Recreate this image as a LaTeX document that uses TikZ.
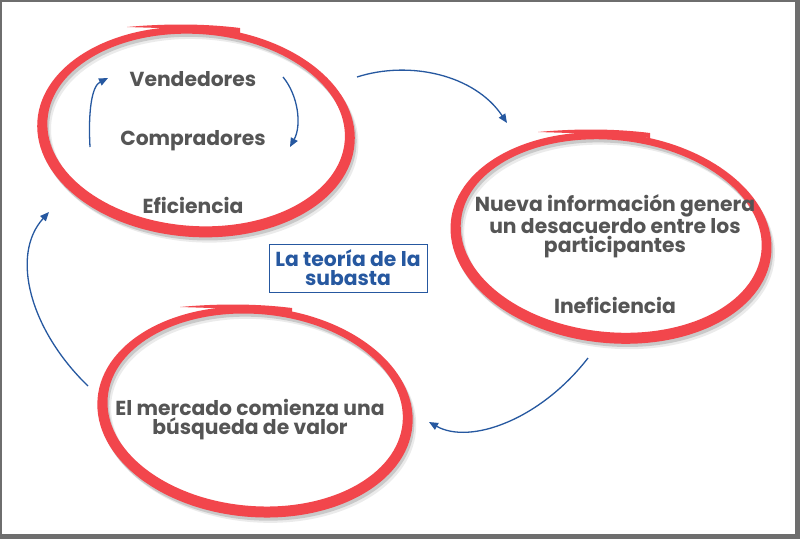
\documentclass[tikz,border=0pt]{standalone}
\usepackage{fontspec}
\setmainfont{Poppins}
\usetikzlibrary{arrows.meta}
\definecolor{ringred}{RGB}{242,70,76}
\definecolor{txtgray}{RGB}{85,85,85}
\definecolor{arrblue}{RGB}{38,88,160}
\definecolor{framegray}{RGB}{110,110,110}
\newcommand\brushring[5]{%
  \begin{scope}[shift={(#1,#2)},rotate=#5]
    \fill[black,opacity=0.08,even odd rule,shift={(4,5)}] (0,0) ellipse [x radius=#3pt,y radius=#4pt] (0,-2) ellipse [x radius=#3pt-10pt,y radius=#4pt-9pt];
    \fill[black,opacity=0.14,even odd rule,shift={(2,3)}] (0,0) ellipse [x radius=#3pt,y radius=#4pt] (0,-2) ellipse [x radius=#3pt-10pt,y radius=#4pt-9pt];
    \fill[ringred,even odd rule] (0,0) ellipse [x radius=#3pt,y radius=#4pt] (0,-2) ellipse [x radius=#3pt-10pt,y radius=#4pt-9pt];
  \end{scope}}
\tikzset{
  lbl/.style={text=txtgray,font=\fontsize{20.3}{19}\selectfont\bfseries,inner sep=0pt,align=center},
  ttl/.style={text=arrblue,font=\fontsize{20.3}{19}\selectfont\bfseries,inner sep=0pt,align=center,draw=arrblue,line width=0.8pt,minimum width=158pt,minimum height=48pt},
  arr/.style={draw=arrblue,line width=1.3pt,-{Triangle[length=9pt,width=7.5pt]}},
  tail/.style={fill=ringred}
}
\begin{document}
\begin{tikzpicture}[x=1pt,y=-1pt]
\useasboundingbox (0,0) rectangle (800,539);
\fill[framegray] (0,0) rectangle (800,539);
\fill[white] (2,2) rectangle (795,534);
% rings
\brushring{196}{132}{159}{105}{-4}
\fill[tail] (127,27) .. controls (160,24) and (200,23) .. (240,28) -- (240,33) .. controls (200,29) and (160,28) .. (127,27) -- cycle;
\brushring{611}{238}{161}{105}{-6}
\fill[tail] (538,132) .. controls (570,129) and (610,128) .. (650,133) -- (650,138) .. controls (610,134) and (570,133) .. (538,132) -- cycle;
\brushring{255}{412}{158}{105}{-5}
\fill[tail] (180,307) .. controls (212,304) and (252,303) .. (292,308) -- (292,313) .. controls (252,309) and (212,308) .. (180,307) -- cycle;
% texts
\node[lbl,anchor=base] (vend) at (193,86) {Vendedores};
\node[lbl,anchor=base] (comp) at (193,145) {Compradores};
\node[lbl,anchor=base] (efic) at (193,213) {Eficiencia};
\node[lbl] (nueva) at (615,226) {Nueva información genera\\un desacuerdo entre los\\participantes};
\node[lbl,anchor=base] (inef) at (615,313) {Ineficiencia};
\node[lbl] (merc) at (250,420) {El mercado comienza una\\búsqueda de valor};
\node[ttl] (teoria) at (348,268) {La teoría de la\\subasta};
% arrow ends
\coordinate (a1s) at (90,147);  \coordinate (a1e) at (108,78);
\coordinate (a2s) at (283,77);  \coordinate (a2e) at (290,147);
\coordinate (a3s) at (357,77);  \coordinate (a3e) at (507,123);
\coordinate (a4s) at (588,358); \coordinate (a4e) at (429,422);
\coordinate (a5s) at (88,386);  \coordinate (a5e) at (49,212);
\draw[arr] (a1s) .. controls (88,110) and (92,86) .. (a1e);
\draw[arr] (a2s) .. controls (298,95) and (302,125) .. (a2e);
\draw[arr] (a3s) .. controls (410,60) and (475,75) .. (a3e);
\draw[arr] (a4s) .. controls (540,420) and (470,445) .. (a4e);
\draw[arr] (a5s) .. controls (30,330) and (10,255) .. (a5e);
\end{tikzpicture}
\end{document}
